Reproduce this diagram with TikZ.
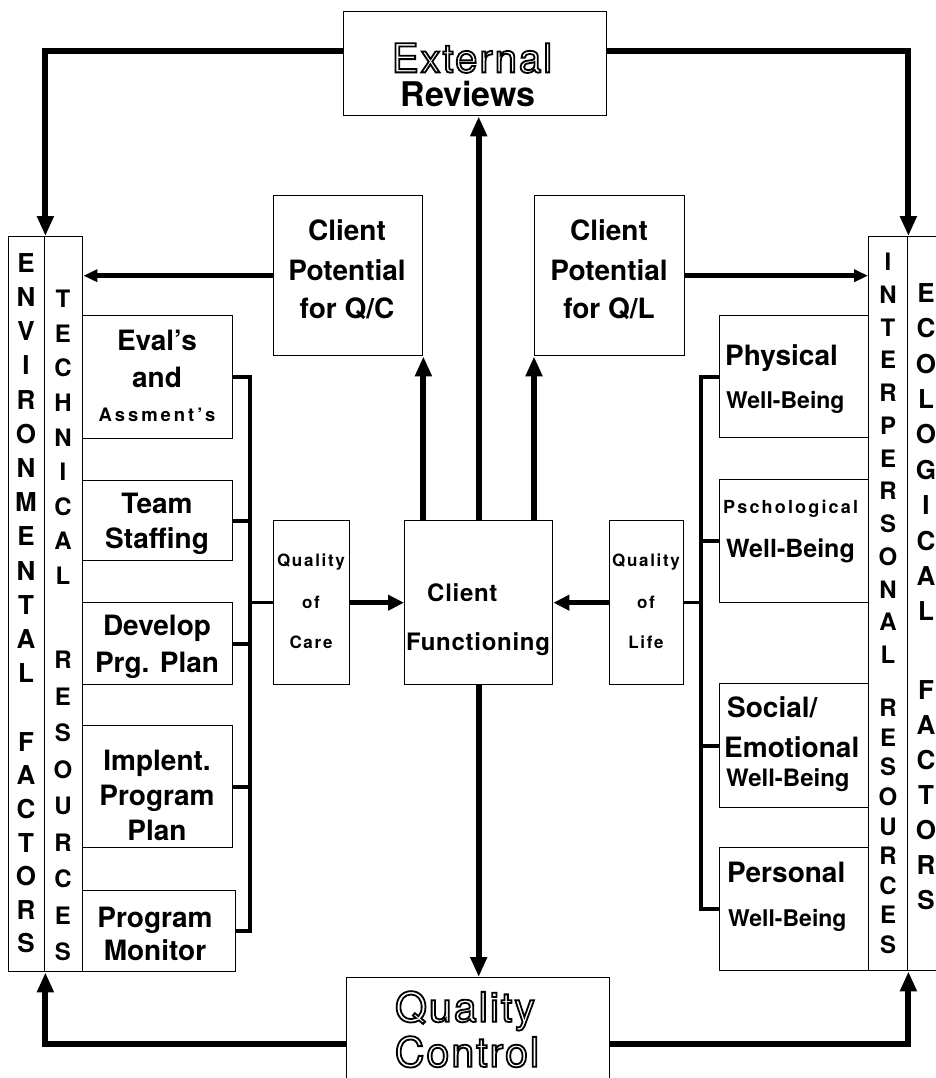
\documentclass[tikz,border=0pt]{standalone}
\usepackage{fontspec}
\setmainfont{TeX Gyre Heros}
\usetikzlibrary{arrows.meta,calc}
\newcommand\fsz[1]{\fontsize{#1}{#1}\selectfont}
\newcommand\bxnode[5]{\node[bx,minimum width={#4-#2},minimum height={#5-#3}] (#1) at (#2,#3) {};}
\newcommand\tx[5]{\node[tt,font=\bfseries\fsz{#4}] (#1) at (#2,{#3+0.36*#4}) {#5};}
\newcommand\txl[5]{\node[tt,anchor=base west,font=\bfseries\fsz{#4}] (#1) at (#2,{#3+0.36*#4}) {#5};}
\newcommand\hol[5]{%
  \node[tt,font=\fsz{#4}] (#1) at (#2,{#3+0.36*#4})
    {\special{pdf:literal direct 1 Tr 1.8 w}\addfontfeature{LetterSpace=5}#5\special{pdf:literal direct 0 Tr}};}
\newcommand\vcol[6]{%
  \foreach \l [count=\i from 0] in {#6}{\node[tt,font=\bfseries\fsz{#5}] (#1\i) at (#2,{#3+\i*#4+0.36*#5}) {\l};}}
\begin{document}
\begin{tikzpicture}[x=1pt,y=-1pt,
  bx/.style={draw,line width=1.4pt,inner sep=0pt,anchor=north west},
  tt/.style={inner sep=0pt,anchor=base},
  fbarr/.style={line width=6pt,-{Triangle[length=20pt,width=16pt]}},
  vuparr/.style={line width=6pt,-{Triangle[length=20pt,width=16pt]}},
  sidearr/.style={line width=4.5pt,-{Triangle[length=14pt,width=12pt]}},
  qarr/.style={line width=5pt,-{Triangle[length=16pt,width=15pt]}},
  brk/.style={line width=4pt},
  cn/.style={line width=2.5pt}]
\fill[white] (0,0) rectangle (935,1078);
\useasboundingbox (0,0) rectangle (935,1078);

% boxes
\bxnode{ext}{343}{11}{606}{115}
\bxnode{qc}{273}{195}{422}{355}
\bxnode{ql}{534}{195}{684}{355}
\bxnode{envcol}{8}{236}{44}{971}
\bxnode{techcol}{44}{236}{82}{971}
\bxnode{ipcol}{868}{236}{907}{970}
\bxnode{ecocol}{907}{236}{950}{970}
\bxnode{eval}{82}{315}{232}{438}
\bxnode{team}{82}{480}{232}{560}
\bxnode{dev}{82}{602}{232}{684}
\bxnode{impl}{82}{725}{232}{847}
\bxnode{mon}{82}{890}{235}{971}
\bxnode{qoc}{273}{520}{349}{684}
\bxnode{cf}{404}{520}{552}{684}
\bxnode{qol}{609}{520}{683}{684}
\bxnode{phys}{719}{315}{868}{437}
\bxnode{psy}{719}{479}{868}{602}
\bxnode{soc}{719}{683}{868}{807}
\bxnode{pers}{719}{847}{868}{970}
\bxnode{qcon}{346}{977}{609}{1110}

% feedback loops
\draw[fbarr] ([yshift=13pt]ext.west) -| (envcol.north east);
\draw[fbarr] ([yshift=13pt]ext.east) -| (ipcol.north east);
\draw[fbarr] (qcon.west) -| (envcol.south east);
\draw[fbarr] (qcon.east) -| (ipcol.south east);

% potentials
\draw[sidearr] (qc.west) -- (qc.west -| techcol.east);
\draw[sidearr] (ql.east) -- (ql.east -| ipcol.west);
\draw[vuparr] (cf.north -| qc.south east) -- (qc.south east);
\draw[vuparr] (cf.north) -- (cf.north |- ext.south);
\draw[vuparr] (cf.north -| ql.south west) -- (ql.south west);
\draw[vuparr] (cf.south) -- (cf.south |- qcon.north);
\draw[qarr] (qoc.east) -- (cf.west);
\draw[qarr] (qol.west) -- (cf.east);

% brackets
\coordinate (lbx) at (250,0);
\coordinate (rbx) at (701,0);
\draw[brk] (eval.east) -- (eval.east -| lbx) -- (mon.east -| lbx) -- (mon.east);
\foreach \n in {team,dev,impl} \draw[brk] (\n.east) -- (\n.east -| lbx);
\draw[cn] (qoc.west -| lbx) -- (qoc.west);
\draw[brk] (phys.west) -- (phys.west -| rbx) -- (pers.west -| rbx) -- (pers.west);
\foreach \n in {psy,soc} \draw[brk] (\n.west) -- (\n.west -| rbx);
\draw[cn] (qol.east) -- (qol.east -| rbx);

% texts
\hol{extA}{472}{58}{40}{External}
\tx{extB}{468}{94}{34}{Reviews}
\hol{qconA}{465}{1007}{41}{Quality}
\hol{qconB}{467}{1052}{41}{Control}

\tx{evA}{157}{340}{28}{Eval's}
\tx{evB}{157}{377}{28}{and}
\tx{evC}{157}{415}{18.5}{\addfontfeature{LetterSpace=16}Assment's}
\tx{tmA}{157}{503}{28}{Team}
\tx{tmB}{157}{538}{28}{Staffing}
\tx{dvA}{157}{625}{28}{Develop}
\tx{dvB}{157}{662}{28}{Prg. Plan}
\tx{imA}{157}{760}{28}{Implent.}
\tx{imB}{157}{795}{28}{Program}
\tx{imC}{157}{830}{28}{Plan}
\tx{mnA}{155}{917}{28}{Program}
\tx{mnB}{155}{950}{28}{Monitor}

\tx{pcA}{347}{230}{28}{Client}
\tx{pcB}{347}{270}{28}{Potential}
\tx{pcC}{347}{308}{28}{for Q/C}
\tx{plA}{609}{230}{28}{Client}
\tx{plB}{609}{270}{28}{Potential}
\tx{plC}{609}{308}{28}{for Q/L}

\tx{qocA}{311}{560}{17}{\addfontfeature{LetterSpace=10}Quality}
\tx{qocB}{311}{602}{17}{\addfontfeature{LetterSpace=10}of}
\tx{qocC}{311}{642}{17}{\addfontfeature{LetterSpace=10}Care}
\tx{qolA}{646}{560}{17}{\addfontfeature{LetterSpace=10}Quality}
\tx{qolB}{646}{602}{17}{\addfontfeature{LetterSpace=10}of}
\tx{qolC}{646}{642}{17}{\addfontfeature{LetterSpace=10}Life}
\txl{cfA}{427}{593}{24}{\addfontfeature{LetterSpace=3}Client}
\tx{cfB}{478}{642}{24}{\addfontfeature{LetterSpace=3}Functioning}

\txl{phA}{725}{355}{28}{Physical}
\txl{phB}{726}{400}{23}{Well-Being}
\txl{psA}{723}{507}{18}{\addfontfeature{LetterSpace=12}Pschological}
\txl{psB}{726}{548}{25}{Well-Being}
\txl{soA}{727}{707}{28}{Social/}
\txl{soB}{724}{747}{28}{Emotional}
\txl{soC}{726}{778}{24}{Well-Being}
\txl{peA}{727}{872}{28}{Personal}
\txl{peB}{728}{918}{23}{Well-Being}

% vertical column texts
\vcol{envA}{26}{263}{34.2}{26}{E,N,V,I,R,O,N,M,E,N,T,A,L}
\vcol{envB}{26}{742}{33.6}{26}{F,A,C,T,O,R,S}
\vcol{tecA}{63}{299}{34.6}{24}{T,E,C,H,N,I,C,A,L}
\vcol{tecB}{63}{660}{36.5}{24}{R,E,S,O,U,R,C,E,S}
\vcol{ipA}{888}{262}{32.75}{24}{I,N,T,E,R,P,E,R,S,O,N,A,L}
\vcol{ipB}{888}{708}{29.6}{24}{R,E,S,O,U,R,C,E,S}
\vcol{ecoA}{926}{293}{35.4}{26}{E,C,O,L,O,G,I,C,A,L}
\vcol{ecoB}{926}{690}{35}{26}{F,A,C,T,O,R,S}
\end{tikzpicture}
\end{document}
